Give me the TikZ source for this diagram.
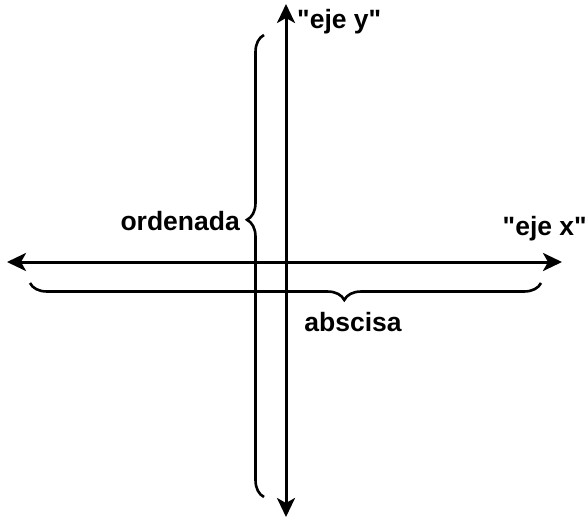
\documentclass[tikz,border=0pt]{standalone}
\usepackage{fontspec}
\newfontfamily\lblfont{Liberation Sans}
\usetikzlibrary{arrows.meta,decorations.pathreplacing}
\begin{document}
\begin{tikzpicture}[x=1pt,y=-1pt,
  axis/.style={line width=3pt,{Stealth[length=19pt,width=18pt,inset=5pt]}-{Stealth[length=19pt,width=18pt,inset=5pt]}},
  bracestyle/.style={line width=2.6pt,decorate,decoration={brace,amplitude=17pt}},
  lbl/.style={font=\lblfont\bfseries\fontsize{26.5}{26.5}\selectfont,inner sep=0pt}]
\useasboundingbox (0,0) rectangle (588,519);
\coordinate (xl) at (7,262);
\coordinate (xr) at (562,262);
\coordinate (yt) at (286,4);
\coordinate (yb) at (286,517);
\draw[axis] (xl) -- (xr);
\draw[axis] (yt) -- (yb);
\coordinate (vb1) at (264,497);
\coordinate (vb2) at (264,35);
\coordinate (hb1) at (541,283);
\coordinate (hb2) at (30,283);
\draw[bracestyle,decoration={aspect=0.6}] (vb1) -- (vb2);
\draw[bracestyle,decoration={aspect=0.385}] (hb1) -- (hb2);
\node[lbl,anchor=west] (ly) at (297,22) {"eje y"};
\node[lbl,anchor=east] (lo) at (240,221) {ordenada};
\node[lbl,anchor=east] (lx) at (587,229) {"eje x"};
\node[lbl] (la) at (353,322) {abscisa};
\end{tikzpicture}
\end{document}
